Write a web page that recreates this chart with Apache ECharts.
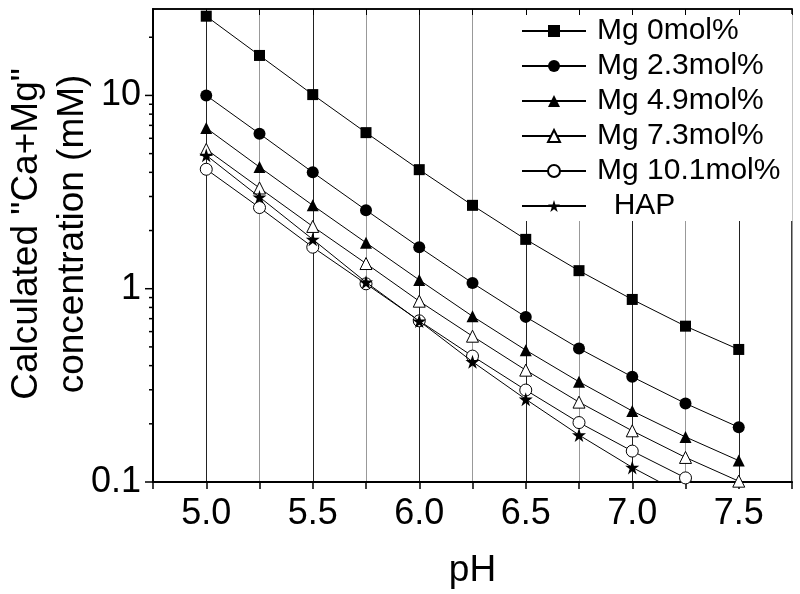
<!DOCTYPE html>
<html>
<head>
<meta charset="utf-8">
<script src="https://cdn.jsdelivr.net/npm/echarts@6/dist/echarts.min.js"></script>
<style>html,body{margin:0;padding:0;background:#fff;}#c{width:800px;height:594px;}</style>
</head>
<body>
<div id="c"></div>
<script>
// ---- data ----
const ph = [5.0, 5.25, 5.5, 5.75, 6.0, 6.25, 6.5, 6.75, 7.0, 7.25, 7.5];
const mg0   = [25.7, 16.1, 10.1, 6.42, 4.13, 2.70, 1.80, 1.24, 0.88, 0.64, 0.485];
const mg23  = [10.0, 6.34, 4.0, 2.55, 1.64, 1.07, 0.715, 0.491, 0.35, 0.255, 0.192];
const mg49  = [6.78, 4.26, 2.70, 1.73, 1.11, 0.72, 0.481, 0.33, 0.233, 0.171, 0.129];
const mg73  = [5.26, 3.32, 2.10, 1.35, 0.862, 0.568, 0.379, 0.259, 0.184, 0.134, 0.101];
const mg101 = [4.15, 2.63, 1.64, 1.06, 0.682, 0.448, 0.299, 0.203, 0.1445, 0.105, 0.074];
const hap   = [4.90, 2.98, 1.80, 1.08, 0.68, 0.419, 0.268, 0.175, 0.119, 0.085, null];
const seriesNames = ['Mg 0mol%', 'Mg 2.3mol%', 'Mg 4.9mol%', 'Mg 7.3mol%', 'Mg 10.1mol%', 'HAP'];
const xTicks = { min: 4.75, max: 7.75, step: 0.25 };
const yRange = { min: 0.1, max: 28 };
const yMajorTicks = [0.1, 1, 10];
const yMinorTicks = [0.2, 0.3, 0.4, 0.5, 0.6, 0.7, 0.8, 0.9, 2, 3, 4, 5, 6, 7, 8, 9, 20];

const FONT = "'Liberation Sans', Arial, sans-serif";
const STAR = 'path://M50,0 L61.2,34.5 L97.6,34.5 L68.2,55.9 L79.4,90.5 L50,69.1 L20.6,90.5 L31.8,55.9 L2.4,34.5 L38.8,34.5 Z';

const styles = [
  { symbol: 'rect', size: 11, fill: '#000' },
  { symbol: 'circle', size: 12, fill: '#000' },
  { symbol: 'triangle', size: 12, fill: '#000' },
  { symbol: 'triangle', size: 12, fill: '#fff' },
  { symbol: 'circle', size: 12, fill: '#fff' },
  { symbol: STAR, size: 14, fill: '#000' }
];
const allValues = [mg0, mg23, mg49, mg73, mg101, hap];

const lineSeries = allValues.map((vals, i) => ({
  name: seriesNames[i],
  type: 'line',
  data: ph.map((x, j) => [x, vals[j]]),
  symbol: styles[i].symbol,
  symbolSize: styles[i].size,
  showAllSymbol: true,
  clip: true,
  lineStyle: { color: '#000', width: 1 },
  itemStyle: { color: styles[i].fill, borderColor: '#000', borderWidth: styles[i].fill === '#fff' ? 1 : 0 },
  z: 3 + i
}));

function tickSeries(values, len) {
  return {
    type: 'custom',
    silent: true,
    clip: false,
    xAxisIndex: 0, yAxisIndex: 0,
    data: values.map(v => [xTicks.min, v]),
    renderItem: function (params, api) {
      const p = api.coord([api.value(0), api.value(1)]);
      return { type: 'line', shape: { x1: p[0] - len, y1: p[1], x2: p[0], y2: p[1] },
               style: { stroke: '#000', lineWidth: 1.5 } };
    },
    z: 10
  };
}

const isHalf = v => Math.abs(v * 2 - Math.round(v * 2)) < 1e-6;
const isPow10 = v => { const l = Math.log10(v); return Math.abs(l - Math.round(l)) < 1e-6; };

const chart = echarts.init(document.getElementById('c'), null, { renderer: 'canvas' });
chart.setOption({
  animation: false,
  backgroundColor: '#fff',
  textStyle: { fontFamily: FONT },
  grid: { left: 153, right: 8, top: 9, bottom: 112, show: true, borderColor: '#000', borderWidth: 1.5, backgroundColor: 'transparent' },
  legend: {
    data: seriesNames,
    orient: 'vertical',
    left: 516, top: 14,
    padding: [2, 12, 0, 5],
    itemWidth: 64, itemHeight: 15, itemGap: 5,
    backgroundColor: '#fff',
    textStyle: { fontSize: 30, color: '#000', fontFamily: FONT, padding: [0, 0, 0, 6] },
    formatter: n => n === 'HAP' ? '  HAP' : n,
    z: 4
  },
  xAxis: [{
    type: 'value', min: xTicks.min, max: xTicks.max, interval: xTicks.step,
    name: 'pH', nameLocation: 'middle', nameGap: 70,
    nameTextStyle: { fontSize: 37, color: '#000', fontFamily: FONT },
    axisLine: { lineStyle: { color: '#000', width: 2 } },
    axisTick: { show: true, inside: false, length: 7, lineStyle: { color: '#000', width: 1.5 } },
    axisLabel: { fontSize: 36, color: '#000', margin: 14, fontFamily: FONT,
                 formatter: v => isHalf(v) && v > xTicks.min && v < xTicks.max ? v.toFixed(1) : '' },
    splitLine: { show: true, lineStyle: { color: ['#999', '#222'], width: 1 } }
  }, {
    type: 'value', position: 'top', min: xTicks.min, max: xTicks.max, interval: xTicks.step,
    axisLine: { show: true, lineStyle: { color: '#000', width: 1.5 } },
    axisTick: { show: true, inside: true, length: 6, lineStyle: { color: '#000', width: 1 } },
    axisLabel: { show: false }, splitLine: { show: false }, z: 10
  }],
  yAxis: [{
    type: 'log', logBase: 10, min: yRange.min, max: yRange.max,
    axisLine: { show: true, lineStyle: { color: '#000', width: 2 } },
    axisTick: { show: false },
    axisLabel: { fontSize: 36, color: '#000', margin: 12, fontFamily: FONT,
                 formatter: v => isPow10(v) ? String(+(+v).toPrecision(3)) : '' },
    splitLine: { show: false },
    minorTick: { show: false }
  }],
  graphic: [{
    type: 'text',
    x: 50, y: 234,
    rotation: Math.PI / 2,
    style: {
      text: 'Calculated "Ca+Mg"\nconcentration (mM)',
      font: '37px ' + FONT,
      fill: '#000',
      align: 'center', verticalAlign: 'middle',
      lineHeight: 46
    }
  }],
  series: lineSeries.concat([tickSeries(yMajorTicks, 8), tickSeries(yMinorTicks, 4)])
});
</script>
</body>
</html>
